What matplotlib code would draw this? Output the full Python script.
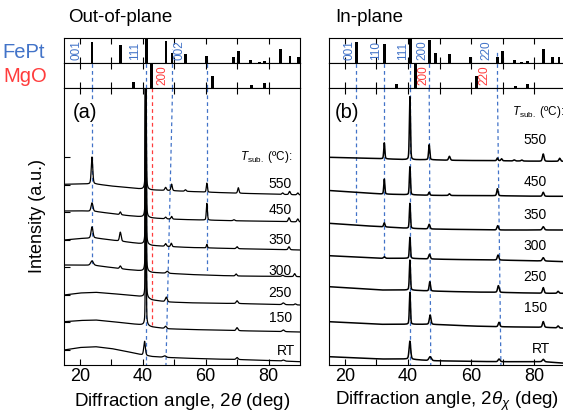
import numpy as np
import matplotlib
matplotlib.use("Agg")
import matplotlib.pyplot as plt

plt.rcParams['font.family'] = ['Liberation Sans', 'DejaVu Sans']
plt.rcParams['mathtext.fontset'] = 'custom'
plt.rcParams['mathtext.rm'] = 'Liberation Sans'
plt.rcParams['mathtext.it'] = 'Liberation Sans:italic'

TEMPS = ["550", "450", "350", "300", "250", "150", "RT"]

# reference patterns: (2theta, relative intensity)
OOP_FEPT_POS = [23.9, 33.0, 41.1, 47.4, 49.3, 53.5, 60.4, 68.9, 70.5, 74.3, 77.2, 78.7, 83.8, 86.8, 89.4]
OOP_FEPT_INT = [0.83, 0.73, 1.0, 0.89, 0.4, 0.36, 0.27, 0.24, 0.47, 0.13, 0.04, 0.1, 0.56, 0.27, 0.23]
OOP_MGO_POS = [37.1, 42.9, 62.3, 74.6, 78.8]
OOP_MGO_INT = [0.23, 1.0, 0.5, 0.13, 0.2]
IP_FEPT_POS = [23.7, 32.6, 40.7, 46.8, 48.7, 53.1, 59.8, 68.3, 69.8, 73.6, 76.0, 77.7, 82.8, 85.6, 87.8]
IP_FEPT_INT = [0.86, 0.76, 1.0, 0.93, 0.4, 0.38, 0.26, 0.24, 0.47, 0.13, 0.06, 0.1, 0.56, 0.26, 0.26]
IP_MGO_POS = [36.4, 42.4, 61.6, 74.0, 77.7]
IP_MGO_INT = [0.18, 1.0, 0.48, 0.1, 0.16]

OOP_HKL = ["001", "111", "002"]
IP_HKL = ["001", "110", "111", "200", "220"]
OOP_MGO_HKL = ["200"]
IP_MGO_HKL = ["200", "220"]

# background levels of the stacked scans (a.u.) at knot angles
OOP_KNOTS = [15, 20, 25, 30, 35, 40, 43, 48, 55, 62, 70, 80, 90]
OOP_BG = {
    "550": [180.7, 181, 181, 179, 177.5, 175.8, 175, 174.5, 173.5, 172.7, 171.8, 171, 170],
    "450": [154, 154.2, 153.5, 151.5, 149.5, 148, 147, 146, 145.3, 144.8, 144.2, 143.7, 143],
    "350": [125, 126.5, 127, 125, 123, 121, 119.5, 118.5, 117.5, 117, 116.3, 115.7, 115],
    "300": [100, 100, 99.5, 97.5, 95.5, 94, 92.5, 91.7, 90.5, 89.7, 89, 88.7, 88.3],
    "250": [70, 72, 72.7, 71.5, 70, 68.3, 65, 63, 62.2, 61.8, 61.5, 60.7, 60],
    "150": [43.3, 44.5, 45, 43.5, 41.7, 40, 38, 36.2, 35.5, 35, 34.3, 33.7, 33],
    "RT": [15, 17.5, 18.3, 16.5, 13.5, 10, 8.5, 7.5, 6.7, 6, 5.5, 4.5, 3.3],
}
# peaks: (2theta, height, hwhm)
OOP_PEAKS = {
    "550": [(23.9, 27, 0.28), (41.0, 300, 0.12), (47.3, 3, 0.3), (49.2, 6.5, 0.25), (53.6, 1.5, 0.3),
            (60.4, 9, 0.2), (70.4, 5.5, 0.25), (84.5, 1.5, 0.3), (86.7, 3.3, 0.3), (89.3, 2, 0.3)],
    "450": [(23.9, 8.5, 0.35), (32.9, 2.7, 0.25), (41.0, 300, 0.12), (47.3, 1.7, 0.3), (49.2, 2.7, 0.25),
            (60.4, 16.7, 0.2), (69.0, 1.0, 0.3), (86.5, 4, 0.3), (89.3, 3, 0.3)],
    "350": [(23.9, 11.3, 0.35), (32.9, 9, 0.3), (41.0, 300, 0.12), (47.3, 2.7, 0.3), (49.1, 3.4, 0.25),
            (60.4, 3.5, 0.2), (70.0, 2, 0.3), (86.5, 3, 0.3)],
    "300": [(23.9, 4.5, 0.5), (32.9, 2.7, 0.3), (41.0, 300, 0.12), (47.8, 2, 0.4), (69.7, 2, 0.3),
            (84.5, 1.2, 0.4), (88.3, 3, 0.3)],
    "250": [(41.0, 300, 0.12), (47.5, 4.7, 0.35), (70.0, 2.7, 0.35), (84.7, 1.7, 0.4), (88.5, 1, 0.3)],
    "150": [(41.0, 300, 0.12), (47.3, 2.3, 0.35), (70.0, 3, 0.35), (84.7, 1.7, 0.4)],
    "RT": [(40.6, 14, 0.3), (47.0, 1.5, 0.5), (70.0, 2, 0.35), (84.7, 1, 0.4)],
}

IP_KNOTS = [15, 25, 31.5, 40, 47, 53, 60, 68, 75, 83, 90]
IP_BG = {
    "550": [207.7, 207, 206.3, 205.3, 205.3, 204.7, 204.5, 204.3, 204, 203.7, 203.7],
    "450": [174.5, 172.5, 171, 170.3, 169.7, 169.5, 169.4, 169.3, 169, 168.7, 168.7],
    "350": [141.7, 139.5, 138.3, 136.7, 136, 135.7, 135.4, 135, 135, 135, 135],
    "300": [109.3, 107.7, 106.7, 106.7, 106, 105.6, 105.3, 105, 104.5, 104, 103.3],
    "250": [78.3, 76.3, 75, 75, 74, 73.5, 73, 72.7, 72.2, 71.7, 71.7],
    "150": [43.3, 41.7, 40.7, 40.7, 40.7, 40, 39, 38.3, 38, 37.7, 36.7],
    "RT": [8.3, 7, 6, 6, 4.3, 4, 3.7, 3.3, 3.3, 3.3, 1.7],
}
IP_PEAKS = {
    "550": [(32.5, 16, 0.2), (40.6, 63, 0.2), (46.7, 15, 0.22), (53.1, 4, 0.3), (68.3, 2.7, 0.25),
            (69.6, 2, 0.25), (73.6, 1, 0.3), (76.0, 1, 0.3), (82.8, 7.3, 0.3), (88.0, 3, 0.3)],
    "450": [(32.5, 15, 0.2), (40.6, 28, 0.2), (46.7, 3, 0.25), (53.1, 1.7, 0.3), (68.3, 7, 0.25),
            (82.8, 4, 0.3)],
    "350": [(32.5, 4, 0.25), (40.6, 25, 0.2), (46.7, 4.7, 0.3), (68.4, 4.3, 0.3), (82.8, 3.3, 0.35)],
    "300": [(32.5, 1.5, 0.3), (40.6, 21, 0.2), (46.8, 4.7, 0.3), (68.5, 5, 0.3), (82.8, 3.3, 0.35)],
    "250": [(40.6, 30, 0.2), (46.9, 9.3, 0.25), (68.6, 6.7, 0.3), (82.8, 5.7, 0.3), (87.5, 2, 0.3)],
    "150": [(40.6, 32, 0.2), (47.0, 9.3, 0.3), (68.8, 4.4, 0.3), (82.8, 5.7, 0.3), (87.5, 2, 0.3)],
    "RT": [(40.6, 18, 0.3), (47.0, 4, 0.45), (68.8, 2.7, 0.35), (82.8, 2.4, 0.35)],
}

BLUE = "#4273c8"
RED = "#ff3c3c"
DASH = (0, (3, 2.5))
YMAX = 277
ETA = 0.3


def scan(x, knots, bg, peaks):
    y = np.interp(x, knots, bg)
    for p, h, w in peaks:
        t = (x - p) / w
        y = y + h * (ETA / (1 + t ** 2) + (1 - ETA) * np.exp(-np.log(2) * t ** 2))
    return y


def stick_axes(ax, pos, inten):
    ax.bar(pos, inten, width=0.9, color="black", zorder=3)
    ax.set_xlim(15, 90)
    ax.set_ylim(0, 1)
    ax.set_yticks([])
    ax.set_xticks(range(20, 90, 10))
    ax.tick_params(direction="in", top=True, bottom=True, labelbottom=False,
                   length=4, width=0.8)


W, H = 563, 416
fig = plt.figure(figsize=(W / 100, H / 100), dpi=100)


def box(x0, x1, y0, y1):
    return [x0 / W, 1 - y1 / H, (x1 - x0) / W, (y1 - y0) / H]


panels = [
    dict(x0=64, x1=300, fept=(OOP_FEPT_POS, OOP_FEPT_INT), mgo=(OOP_MGO_POS, OOP_MGO_INT),
         knots=OOP_KNOTS, bg=OOP_BG, peaks=OOP_PEAKS, title="Out-of-plane", lw=0.9,
         xlabel=r"Diffraction angle, 2$\theta$ (deg)", tag="(a)"),
    dict(x0=329, x1=566, fept=(IP_FEPT_POS, IP_FEPT_INT), mgo=(IP_MGO_POS, IP_MGO_INT),
         knots=IP_KNOTS, bg=IP_BG, peaks=IP_PEAKS, title="In-plane", lw=1.1,
         xlabel=r"Diffraction angle, 2$\theta_\chi$ (deg)", tag="(b)"),
]

x = np.arange(15, 90.001, 0.02)
axes = []
for i, pnl in enumerate(panels):
    ax_f = fig.add_axes(box(pnl["x0"], pnl["x1"], 38, 63))
    ax_m = fig.add_axes(box(pnl["x0"], pnl["x1"], 63, 88))
    ax = fig.add_axes(box(pnl["x0"], pnl["x1"], 88, 365))
    stick_axes(ax_f, *pnl["fept"])
    stick_axes(ax_m, *pnl["mgo"])
    for k, t in enumerate(TEMPS):
        ax.plot(x, scan(x, pnl["knots"], pnl["bg"][t], pnl["peaks"][t]),
                color="black", lw=pnl["lw"], zorder=2)
    ax.set_xlim(15, 90)
    ax.set_ylim(0, YMAX)
    ax.set_xticks(range(20, 90, 10))
    ax.set_xticklabels(["20", "", "40", "", "60", "", "80"])
    ax.tick_params(direction="in", top=True, length=4, width=0.8, labelsize=13, pad=2)
    if i == 0:
        ax.set_yticks([15 + 27.57 * k for k in range(8)])
        ax.set_yticklabels([])
        ax.tick_params(axis="y", length=4, width=0.8)
    else:
        ax.set_yticks([])
    for a in (ax_f, ax_m, ax):
        for s in a.spines.values():
            s.set_linewidth(0.8)
    ax.text(0.5, -0.13, pnl["xlabel"], transform=ax.transAxes, ha="center",
            va="center", fontsize=13.5)
    fig.text(pnl["x0"] / W + (0.007 if i == 0 else 0.011), 0.957, pnl["title"],
             ha="left", va="center", fontsize=13.5)
    axes.append((ax_f, ax_m, ax))

# out-of-plane guide lines and labels
ax_f, ax_m, ax = axes[0]
for p in [23.9, 41.0, 60.4]:
    ax_m.axvline(p, color=BLUE, ls=DASH, lw=0.9, zorder=1)
ax_m.axvline(49.4, color=BLUE, ls=DASH, lw=0.9, zorder=1)
ax_f.axvline(49.4, ymax=0.55, color=BLUE, ls=DASH, lw=0.9, zorder=1)
ax_f.axvline(60.4, ymax=0.3, color=BLUE, ls=DASH, lw=0.9, zorder=1)
ax.plot([23.9, 23.9], [YMAX, 100], color=BLUE, ls=DASH, lw=0.9, zorder=1)
ax.plot([41.0, 41.0], [YMAX, 0], color=BLUE, ls=DASH, lw=0.9, zorder=1)
ax.plot([42.9, 42.9], [YMAX, 40], color=RED, ls=DASH, lw=0.9, zorder=1)
ax.plot([49.5, 47.4], [YMAX, 0], color=BLUE, ls=DASH, lw=0.9, zorder=1)
ax.plot([60.4, 60.4], [YMAX, 92], color=BLUE, ls=DASH, lw=0.9, zorder=1)
for lab, px in zip(OOP_HKL, [19.0, 37.6, 51.6]):
    ax_f.text(px, 0.5, lab, rotation=90, color=BLUE, fontsize=8.5, ha="center", va="center")
for lab, px in zip(OOP_MGO_HKL, [46.2]):
    ax_m.text(px, 0.5, lab, rotation=90, color=RED, fontsize=8.5, ha="center", va="center")
for t, yy in zip(TEMPS, [181.5, 155, 125, 94.3, 72, 47, 14.3]):
    ax.text(88.3 if t == "RT" else 87.4, yy, t, ha="right", va="center", fontsize=10)
ax.text(0.856, 0.752, r"$T_{\rm sub.}$ (ºC):", transform=ax.transAxes, ha="center",
        va="center", fontsize=8.5, bbox=dict(fc="white", ec="none", pad=1))
ax.text(0.091, 0.91, "(a)", transform=ax.transAxes, ha="center", va="center",
        fontsize=14.5, bbox=dict(fc="white", ec="none", pad=1))

# in-plane guide lines and labels
ax_f, ax_m, ax = axes[1]
for p in [23.7, 32.4, 40.7, 46.8, 68.3]:
    ax_m.axvline(p, color=BLUE, ls=DASH, lw=0.9, zorder=1)
ax_f.axvline(46.8, ymax=0.5, color=BLUE, ls=DASH, lw=0.9, zorder=1)
ax_f.axvline(68.3, ymax=0.45, color=BLUE, ls=DASH, lw=0.9, zorder=1)
ax.plot([23.6, 23.6], [YMAX, 140], color=BLUE, ls=DASH, lw=0.9, zorder=1)
ax.plot([32.3, 32.3], [YMAX, 107], color=BLUE, ls=DASH, lw=0.9, zorder=1)
ax.plot([40.6, 40.6], [YMAX, 0], color=BLUE, ls=DASH, lw=0.9, zorder=1)
ax.plot([46.7, 47.2], [YMAX, 0], color=BLUE, ls=DASH, lw=0.9, zorder=1)
ax.plot([68.3, 69.4], [YMAX, 0], color=BLUE, ls=DASH, lw=0.9, zorder=1)
for lab, px in zip(IP_HKL, [21.6, 30.0, 38.3, 44.6, 64.9]):
    ax_f.text(px, 0.5, lab, rotation=90, color=BLUE, fontsize=8.5, ha="center", va="center")
for lab, px in zip(IP_MGO_HKL, [44.9, 64.2]):
    ax_m.text(px, 0.5, lab, rotation=90, color=RED, fontsize=8.5, ha="center", va="center")
for t, yy in zip(TEMPS, [224.7, 183, 150, 119.3, 88.3, 56.7, 15.7]):
    ax.text(82.2 if t == "RT" else 80.3, yy, t, ha="center", va="center", fontsize=10)
ax.text(0.882, 0.912, r"$T_{\rm sub.}$ (ºC):", transform=ax.transAxes, ha="center",
        va="center", fontsize=8.5, bbox=dict(fc="white", ec="none", pad=1))
ax.text(0.078, 0.91, "(b)", transform=ax.transAxes, ha="center", va="center",
        fontsize=14.5, bbox=dict(fc="white", ec="none", pad=1))

fig.text(0.004, 1 - 52 / H, "FePt", color=BLUE, fontsize=14.5, ha="left", va="center")
fig.text(0.006, 1 - 77 / H, "MgO", color=RED, fontsize=14.5, ha="left", va="center")
fig.text(38 / W, 0.48, "Intensity (a.u.)", rotation=90, ha="center", va="center",
         fontsize=13)

fig.savefig("out.png", dpi=100)
